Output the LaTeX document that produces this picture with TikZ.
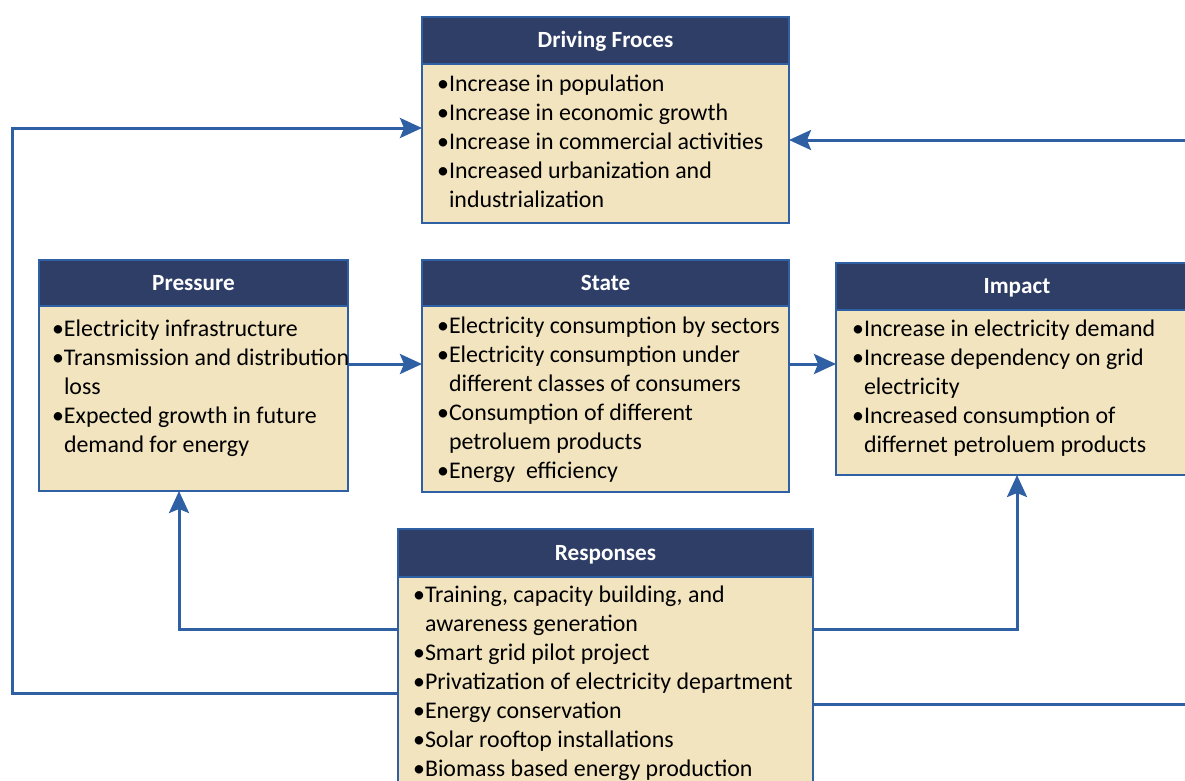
\documentclass[tikz,border=0pt]{standalone}
\usepackage{fontspec}
\setmainfont{Carlito}
\usetikzlibrary{arrows.meta}

\definecolor{navy}{HTML}{2E3E66}
\definecolor{edge}{HTML}{3060A4}
\definecolor{beige}{HTML}{F2E4BE}

% one bullet line and one continuation line of a list
\newcommand\itm[1]{\hbox{\makebox[12pt][l]{•}#1}}
\newcommand\cnt[1]{\hbox{\hspace*{12pt}#1}}
\newcommand\blist[1]{\vtop{\baselineskip=29pt\lineskiplimit=-20pt #1}}

\begin{document}
\begin{tikzpicture}[x=1pt,y=-1pt,
  every node/.style={inner sep=0pt, outer sep=0pt},
  head/.style={draw=edge, line width=1.5pt, fill=navy, text=white,
    font=\fontsize{23.2}{29}\selectfont\bfseries, text height=14pt, text depth=0pt},
  body/.style={draw=edge, line width=1.5pt, fill=beige},
  items/.style={anchor=base west, font=\fontsize{23.9}{29}\selectfont},
  link/.style={draw=edge, line width=3pt},
  arr/.style={link, -{Stealth[length=22pt, width=20pt, inset=4pt]}}]

\useasboundingbox (0,0) rectangle (1185,780);
\clip (0,0) rectangle (1185,780);

% ---- Driving forces
\node[body, minimum width=367pt, minimum height=159pt] (dbody) at (605.5,143.5) {};
\node[head, minimum width=367pt, minimum height=47pt] (dhead) at (605.5,40.5) {Driving Froces};
\node[items] (dtext) at (437,91) {\blist{%
  \itm{Increase in population}
  \itm{Increase in economic growth}
  \itm{Increase in commercial activities}
  \itm{Increased urbanization and}
  \cnt{industrialization}}};

% ---- Pressure
\node[body, minimum width=309pt, minimum height=185pt] (pbody) at (193.5,398.5) {};
\node[head, minimum width=309pt, minimum height=46pt] (phead) at (193.5,283) {Pressure};
\node[items] (ptext) at (52,336) {\blist{%
  \itm{Electricity infrastructure}
  \itm{Transmission and distribution}
  \cnt{loss}
  \itm{Expected growth in future}
  \cnt{demand for energy}}};

% ---- State
\node[body, minimum width=367pt, minimum height=186pt] (sbody) at (605.5,399) {};
\node[head, minimum width=367pt, minimum height=46pt] (shead) at (605.5,283) {State};
\node[items] (stext) at (437,333) {\blist{%
  \itm{Electricity consumption by sectors}
  \itm{Electricity consumption under}
  \cnt{different classes of consumers}
  \itm{Consumption of different}
  \cnt{petroluem products}
  \itm{Energy\ \ efficiency}}};

% ---- Impact
\node[body, minimum width=362pt, minimum height=165pt] (ibody) at (1017,392.5) {};
\node[head, minimum width=362pt, minimum height=47pt] (ihead) at (1017,286.5) {Impact};
\node[items] (itext) at (852,336) {\blist{%
  \itm{Increase in electricity demand}
  \itm{Increase dependency on grid}
  \cnt{electricity}
  \itm{Increased consumption of}
  \cnt{differnet petroluem products}}};

% ---- Responses
\node[body, minimum width=415pt, minimum height=240pt] (rbody) at (605.5,697) {};
\node[head, minimum width=415pt, minimum height=48pt] (rhead) at (605.5,553) {Responses};
\node[items] (rtext) at (413,602) {\blist{%
  \itm{Training, capacity building, and}
  \cnt{awareness generation}
  \itm{Smart grid pilot project}
  \itm{Privatization of electricity department}
  \itm{Energy conservation}
  \itm{Solar rooftop installations}
  \itm{Biomass based energy production}}};

% ---- connectors
\draw[arr] (pbody.east |- 0,364) -- (sbody.west |- 0,364);
\draw[arr] (sbody.east |- 0,364) -- (ibody.west |- 0,364);
\draw[arr] (rbody.west |- 0,629) -| (pbody.south -| 179,0);
\draw[arr] (rbody.east |- 0,629) -| (ibody.south);
\draw[arr] (rbody.west |- 0,693) -| (12,400) |- (dbody.west |- 0,128);
\draw[arr] (rbody.east |- 0,704) -| (1205,400) |- (dbody.east |- 0,140);
\end{tikzpicture}
\end{document}
